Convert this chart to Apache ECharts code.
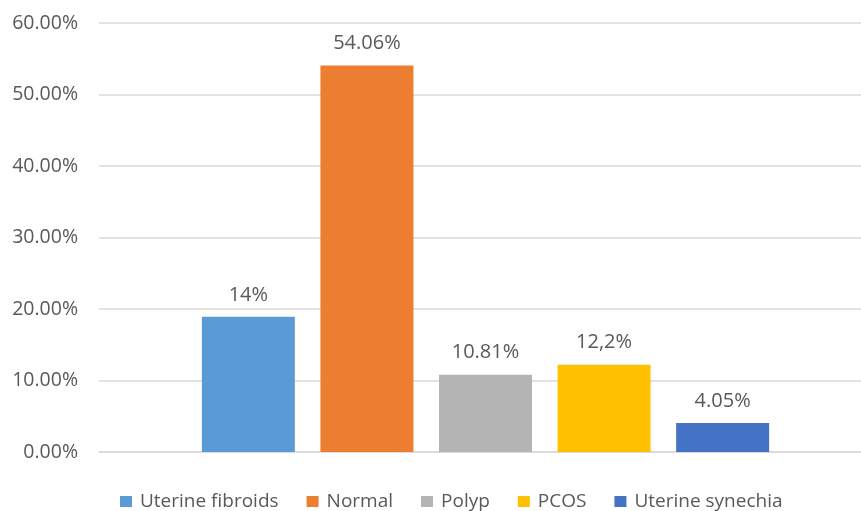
<!DOCTYPE html>
<html>
<head>
<meta charset="utf-8">
<script src="https://cdn.jsdelivr.net/npm/echarts@6/dist/echarts.min.js"></script>
<style>html,body{margin:0;padding:0;background:#fff}#c{width:861px;height:511px}</style>
</head>
<body>
<div id="c"></div>
<script>
const seriesNames = ['Uterine fibroids', 'Normal', 'Polyp', 'PCOS', 'Uterine synechia'];
const seriesValues = [18.9, 54.06, 10.81, 12.2, 4.05];
const labelTexts = ['14%', '54.06%', '10.81%', '12,2%', '4.05%'];
const colors = ['#5B9BD5', '#ED7D31', '#B4B4B4', '#FFC000', '#4472C4'];
const categories = [''];
const yMin = 0, yMax = 60, yStep = 10;

const chart = echarts.init(document.getElementById('c'), null, {renderer: 'canvas'});
const font = '"Open Sans", sans-serif';
const txt = '#595959';
const gridColor = '#D9D9D9';

const series = seriesNames.map((name, i) => ({
  name: name,
  type: 'bar',
  xAxisIndex: 0,
  yAxisIndex: 0,
  data: [seriesValues[i]],
  barWidth: 93,
  barGap: '27.5%',
  itemStyle: {color: colors[i]},
  label: {
    show: true,
    position: 'top',
    distance: 12,
    formatter: () => labelTexts[i],
    color: txt,
    fontSize: 20,
    fontFamily: font
  }
}));

chart.setOption({
  animation: false,
  backgroundColor: '#fff',
  grid: [
    {left: 110, right: 0, top: 23, bottom: 59, containLabel: false},
    {left: 99, right: 0, top: 23, bottom: 59, containLabel: false}
  ],
  legend: {
    data: seriesNames,
    top: 487,
    left: 115,
    icon: 'rect',
    itemWidth: 12,
    itemHeight: 11,
    itemGap: 28,
    textStyle: {color: txt, fontSize: 19, fontFamily: font, padding: [0, 0, 0, 3]}
  },
  xAxis: [
    {
      type: 'category', gridIndex: 0, data: categories,
      axisLine: {show: false}, axisTick: {show: false}, axisLabel: {show: false}, splitLine: {show: false}
    },
    {
      type: 'category', gridIndex: 1, data: categories,
      axisLine: {show: true, lineStyle: {color: gridColor, width: 1.5}},
      axisTick: {show: false}, axisLabel: {show: false}, splitLine: {show: false}
    }
  ],
  yAxis: [
    {
      type: 'value', gridIndex: 0, min: yMin, max: yMax, interval: yStep,
      axisLine: {show: false}, axisTick: {show: false}, axisLabel: {show: false}, splitLine: {show: false}
    },
    {
      type: 'value', gridIndex: 1, min: yMin, max: yMax, interval: yStep,
      axisLine: {show: false},
      axisTick: {show: false},
      axisLabel: {
        formatter: v => v.toFixed(2) + '%',
        color: txt,
        fontSize: 19.5,
        fontFamily: font,
        margin: 21
      },
      splitLine: {lineStyle: {color: gridColor, width: 1.5}},
      z: 0
    }
  ],
  series: series
});
</script>
</body>
</html>
